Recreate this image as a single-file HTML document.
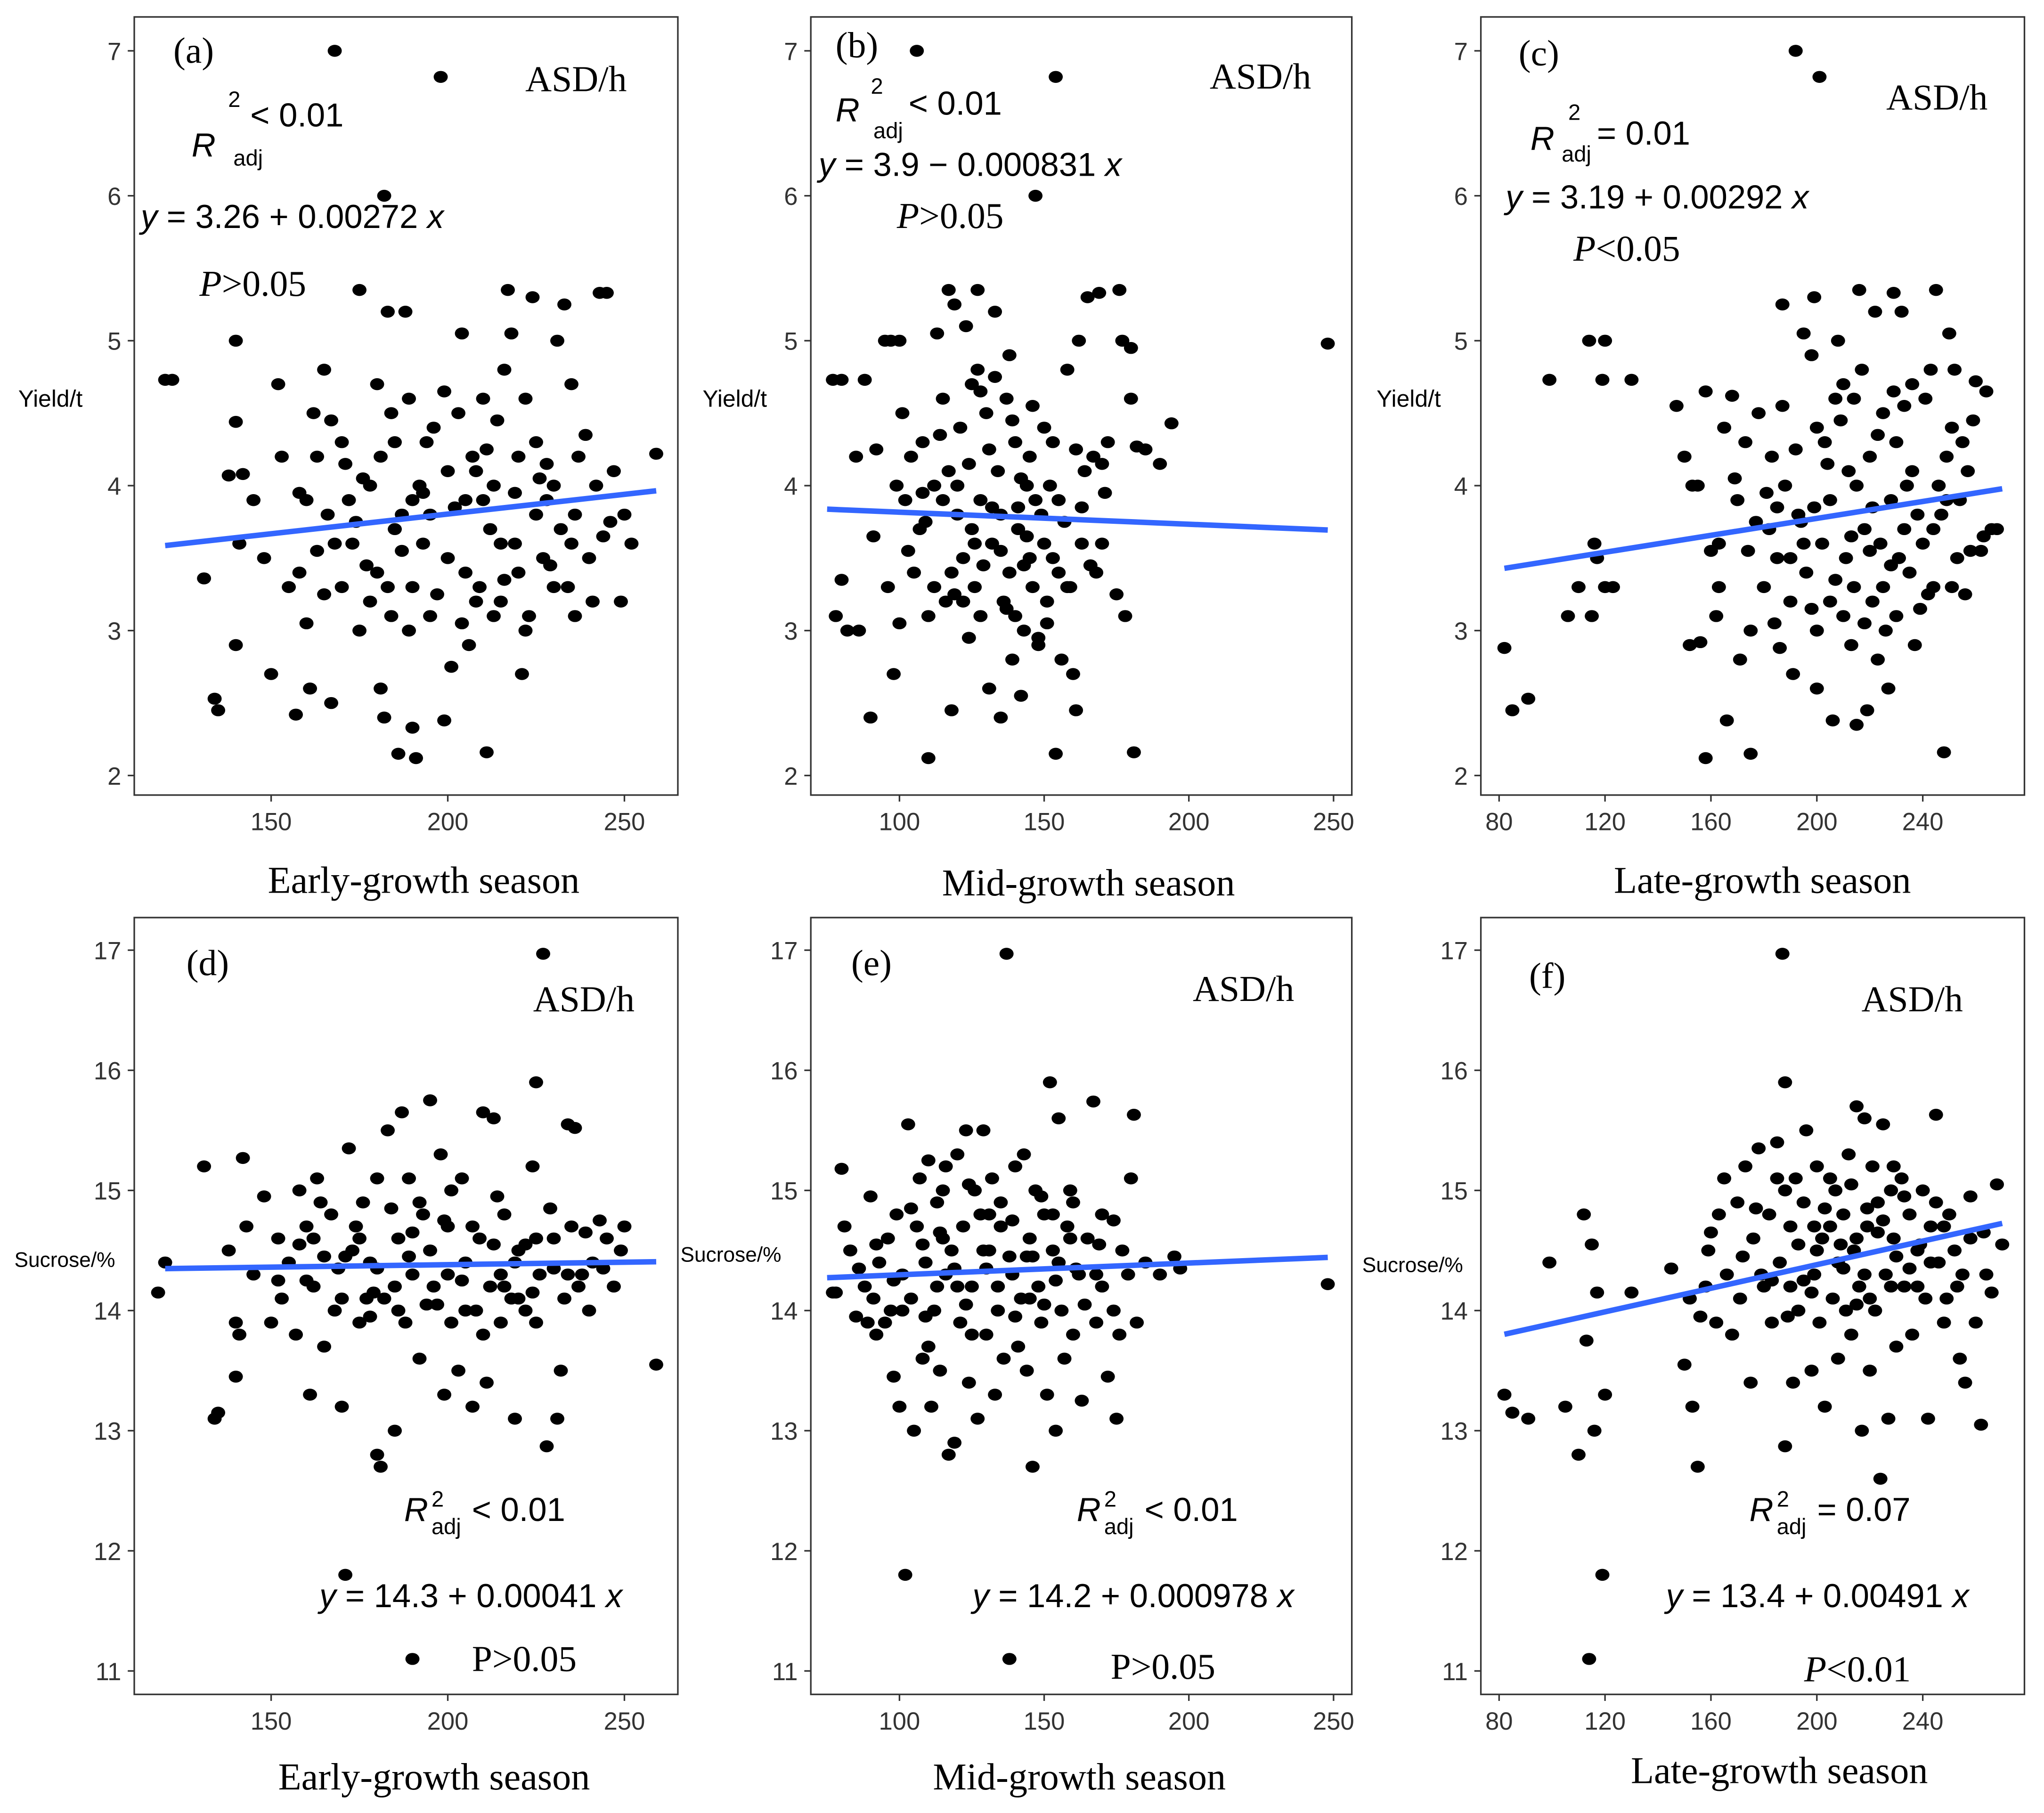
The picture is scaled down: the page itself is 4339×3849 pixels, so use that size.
<!DOCTYPE html>
<html><head><meta charset="utf-8"><style>
html,body{margin:0;padding:0;background:#fff;}
svg{display:block;}
.tk{font-family:"Liberation Sans",sans-serif;font-size:19px;fill:#333;}
</style></head><body>
<svg id="fig" width="4339" height="3849" viewBox="0 0 1568 1391" preserveAspectRatio="none" xmlns="http://www.w3.org/2000/svg">
<g id="root"></g>
</svg>
<script>
const xA=[120,122,131,134,135,138,140,140,140,141,142,145,148,150,152,153,155,157,158,160,161,162,163,165,166,167,168,170,172,173,175,176,178,180,180,181,182,182,183,184,185,186,187,188,189,190,190,191,192,193,195,196,198,199,200,201,203,204,205,207,208,210,211,212,213,215,216,217,218,219,220,221,222,224,225,227,228,230,231,232,233,234,235,236,237,240,241,243,245,246,247,249,250,252,259,170,175,160,190,205,215,225,185,195,200,210,220,178,168,197,213,183,222,165,206,230,163,171,177,184,189,194,199,202,209,214,219,223,226,229,236,239,244,174,181,187,193,208,216,228,235,242,158,167,204,211];
const yA=[4.73,4.73,3.36,2.53,2.45,4.07,4.44,5.0,2.9,3.6,4.08,3.9,3.5,2.7,4.7,4.2,3.3,2.42,3.95,3.05,2.6,4.5,4.2,4.8,3.8,2.5,7.0,4.3,3.9,3.6,5.35,4.05,3.2,4.7,3.4,2.6,6.0,2.4,5.2,3.1,4.3,2.15,3.8,5.2,4.6,3.3,2.33,2.12,4.0,3.6,3.1,4.4,6.82,2.38,3.5,2.75,4.5,5.05,3.9,4.2,3.2,4.6,2.16,3.7,4.0,3.2,4.8,5.35,5.05,3.6,4.2,2.7,3.0,5.3,4.3,3.5,3.9,4.0,5.0,3.7,5.25,3.3,4.7,3.1,4.2,3.5,3.2,5.33,5.33,3.75,4.1,3.2,3.8,3.6,4.22,3.3,3.0,3.9,3.9,3.4,3.6,3.8,3.7,3.8,4.1,3.9,3.4,4.0,3.6,3.25,3.1,3.3,4.6,3.25,2.9,3.3,3.55,4.15,3.45,4.5,3.0,4.3,4.65,3.85,3.3,4.45,3.95,3.1,4.05,3.45,3.8,4.35,3.65,3.75,4.2,3.55,3.95,4.1,3.35,4.15,3.6,4.0,3.4,4.45,3.05,4.25];
const xB=[77,80,78,80,82,85,86,88,90,91,92,95,96,97,98,99,100,100,101,102,104,105,106,107,108,110,110,112,113,115,116,117,118,119,120,121,122,123,124,125,126,127,128,130,131,132,133,134,135,136,137,138,139,140,141,142,143,144,145,146,147,148,149,150,151,152,153,154,154,155,156,158,159,160,161,162,163,164,165,167,168,169,170,172,175,176,177,178,180,180,181,182,185,190,194,248,125,135,145,115,128,140,150,120,132,143,155,118,138,127,112,147,103,108,114,119,124,129,133,137,141,146,151,157,161,166,171,117,126,139,148,158,122,131,144,153,109,135,142,163,170,128];
const yB=[4.73,4.73,3.1,3.35,3.0,4.2,3.0,4.73,2.4,3.65,4.25,5.0,3.3,5.0,2.7,4.0,5.0,3.05,4.5,3.9,4.2,3.4,7.0,3.7,4.3,2.12,3.1,4.0,5.05,4.6,3.2,5.35,2.45,5.25,3.8,4.4,3.5,5.1,2.95,4.7,3.3,5.35,3.9,4.5,2.6,3.6,5.2,4.1,2.4,3.2,4.6,3.4,2.8,4.3,3.7,2.55,3.0,4.0,3.5,3.3,6.0,2.9,3.8,4.4,3.2,4.0,3.5,6.82,2.15,3.9,2.8,4.8,3.3,2.7,2.45,5.0,3.6,4.1,5.3,4.2,3.4,5.33,3.6,4.3,3.25,5.35,5.0,3.1,4.6,4.95,2.16,4.27,4.25,4.15,4.43,4.98,3.7,3.8,4.2,3.9,3.1,3.1,3.6,4.0,3.85,3.45,3.4,3.4,4.9,4.8,3.3,3.9,3.55,3.95,4.35,3.25,4.15,3.45,4.75,3.15,3.85,4.55,3.05,3.75,4.25,3.45,3.95,4.1,3.6,4.45,2.95,3.3,3.2,4.25,3.65,4.3,3.75,3.55,4.05,3.85,4.15,4.65];
const xC=[82,85,91,99,106,110,114,115,116,117,119,120,120,123,130,147,150,152,153,155,156,158,158,160,162,163,165,166,168,170,171,173,175,175,178,180,182,183,185,186,187,188,190,191,192,193,195,196,198,199,200,200,201,202,203,205,206,207,208,210,211,212,213,214,215,216,217,218,219,220,221,222,223,224,225,226,227,228,229,230,231,232,233,234,235,236,237,238,240,241,242,243,244,245,246,247,248,249,250,251,252,253,255,256,257,258,260,262,264,266,268,195,205,215,225,185,200,210,220,230,190,163,169,174,181,187,194,198,204,209,213,218,223,228,233,239,244,249,254,259,263,177,192,207,221,236,251,184,199,214,229];
const yC=[2.88,2.45,2.53,4.73,3.1,3.3,5.0,3.1,3.6,3.5,4.73,5.0,3.3,3.3,4.73,4.55,4.2,2.9,4.0,4.0,2.92,4.65,2.12,3.55,3.1,3.6,4.4,2.38,4.62,3.9,2.8,4.3,3.0,2.15,4.5,3.3,3.7,4.2,3.5,2.88,5.25,4.0,3.2,2.7,7.0,3.8,5.05,3.4,4.9,5.3,3.0,2.6,6.82,3.6,4.3,3.9,2.38,4.6,5.0,3.1,3.5,4.1,2.9,3.3,2.35,5.35,4.8,3.7,2.45,4.2,3.2,5.2,2.8,3.6,4.5,3.0,2.6,3.9,5.33,4.3,3.5,5.2,3.7,4.0,3.4,4.7,2.9,3.8,3.6,4.6,3.25,4.8,3.3,5.35,4.0,3.8,2.16,3.9,5.05,4.4,4.8,3.5,4.3,3.25,4.1,3.55,4.72,3.55,4.65,3.7,3.7,3.6,3.2,4.0,3.3,3.85,4.4,4.7,3.55,3.1,3.5,3.3,4.05,3.55,3.95,4.55,3.75,3.15,4.15,4.45,3.65,3.05,4.35,3.45,4.55,3.15,3.7,4.2,3.9,4.45,3.65,3.75,4.25,3.35,3.85,4.1,3.3,3.05,3.85,4.6,4.65];
const xD=[118,120,131,134,135,138,140,140,141,142,143,145,148,150,152,153,155,157,158,160,161,162,163,165,167,168,170,171,172,173,175,176,178,180,180,181,182,183,185,186,187,188,189,190,190,192,193,195,196,198,199,200,201,203,204,205,207,208,210,211,212,213,215,216,218,219,220,222,224,225,226,227,228,230,231,232,233,234,235,236,238,240,241,243,245,247,250,259,165,175,185,195,205,215,225,170,180,190,200,210,220,230,178,197,213,160,225,152,158,164,169,174,179,184,189,194,199,204,209,214,219,224,229,234,239,244,249,162,177,192,207,222,237,171,186,201,216];
const yD=[14.15,14.4,15.2,13.1,13.15,14.5,13.45,13.9,13.8,15.27,14.7,14.3,14.95,13.9,14.6,14.1,14.4,13.8,15.0,14.7,13.3,14.2,15.1,13.7,14.8,14.0,13.2,11.8,15.35,14.5,13.9,14.9,14.4,12.8,15.1,12.7,14.1,15.5,13.0,14.6,15.65,13.9,15.1,11.1,14.3,13.6,14.8,15.75,14.2,15.3,13.3,14.7,13.9,13.5,15.1,14.4,13.2,14.0,15.65,13.4,14.2,15.6,13.9,14.8,14.1,13.1,14.5,14.0,15.2,15.9,14.3,16.97,12.87,14.6,13.1,13.5,14.1,15.55,14.7,15.52,14.3,14.0,14.4,14.75,14.6,14.2,14.7,13.55,14.45,14.6,14.2,14.5,14.0,14.3,14.6,14.1,14.35,14.65,14.3,13.8,14.1,14.35,13.95,14.05,14.55,14.25,13.9,14.25,14.55,14.9,14.35,14.7,14.15,14.85,14.45,14.05,14.75,14.25,14.6,14.95,14.4,14.15,14.85,14.3,14.65,14.35,14.5,14.6,14.1,14.9,14.7,14.55,14.2,14.45,14.0,15.0,14.2];
const xE=[77,78,80,81,83,85,86,88,89,90,91,92,93,95,96,97,98,99,100,101,102,103,104,105,106,107,108,109,110,111,112,113,114,115,116,117,118,119,120,121,122,123,124,125,126,127,128,129,130,131,132,133,134,135,136,137,138,139,140,141,142,143,144,145,146,147,148,149,150,151,152,153,154,155,156,157,158,159,160,162,163,165,167,168,170,172,174,175,177,180,181,182,185,190,195,197,248,115,125,135,145,155,130,140,150,120,110,160,170,92,98,104,109,114,119,124,129,134,139,144,149,154,159,164,169,174,179,101,116,131,146,161,176,108,123,138,153,168,113];
const yE=[14.15,14.15,15.18,14.7,14.5,13.95,14.35,14.2,13.9,14.95,14.1,13.8,14.4,13.9,14.6,14.0,13.45,14.8,13.2,14.3,11.8,15.55,14.1,13.0,14.7,15.1,13.6,14.4,15.25,13.2,14.0,14.9,13.5,15.0,14.3,12.8,14.5,12.9,15.3,13.9,14.7,15.5,13.4,14.2,15.0,13.1,14.8,15.5,13.8,14.5,15.1,13.3,14.0,14.7,13.6,16.97,11.1,14.3,15.2,13.7,14.1,15.3,13.5,14.6,12.7,15.0,14.2,13.9,14.8,13.3,15.9,14.5,13.0,15.6,14.0,13.6,14.7,15.0,13.8,14.3,13.25,14.6,15.74,13.9,14.2,13.45,14.0,13.1,14.5,15.1,15.63,13.9,14.4,14.3,14.45,14.35,14.22,14.6,13.8,14.9,14.1,14.4,14.35,13.95,14.05,14.2,13.7,14.9,14.8,14.55,14.25,14.85,13.95,14.65,14.35,15.05,14.5,14.2,14.75,14.45,14.95,14.25,14.6,14.05,14.55,14.75,14.3,14.0,15.2,14.8,14.45,14.35,13.8,14.55,14.05,14.45,14.8,14.3,14.2];
const xF=[82,85,91,99,105,110,112,113,114,115,116,117,119,120,130,145,150,152,153,155,156,158,159,160,162,163,165,166,168,170,171,173,175,176,178,180,182,183,185,186,187,188,188,190,191,192,193,195,196,198,199,200,201,202,203,205,206,207,208,210,211,212,213,214,215,216,217,218,219,220,221,222,223,224,225,226,227,228,229,230,232,233,235,236,238,240,241,242,243,245,246,248,250,252,254,255,256,258,260,262,264,266,268,270,190,200,210,220,230,205,215,225,195,235,172,177,183,188,193,198,203,208,213,218,223,228,233,238,243,248,253,258,263,179,189,199,209,219,229,239,249,185,215,245];
const yF=[13.3,13.15,13.1,14.4,13.2,12.8,14.8,13.75,11.1,14.55,13.0,14.15,11.8,13.3,14.15,14.35,13.55,14.1,13.2,12.7,13.95,14.2,14.5,14.65,13.9,14.8,15.1,14.3,13.8,14.9,14.1,15.2,13.4,14.6,15.35,14.2,14.8,13.9,15.4,14.4,16.97,15.9,12.87,14.7,13.4,15.1,14.0,14.9,15.5,13.5,14.3,15.2,13.9,14.6,13.2,15.1,14.1,15.0,13.6,14.8,14.0,15.3,13.8,14.5,15.7,14.2,13.0,15.6,14.7,13.5,15.2,14.0,14.9,12.6,15.55,14.3,13.1,15.0,14.6,13.7,15.1,14.2,14.8,13.8,14.5,15.0,14.1,13.1,14.7,15.63,14.4,13.9,14.8,14.5,13.6,14.3,13.4,14.6,13.9,13.05,14.3,14.15,15.05,14.55,14.2,14.5,14.35,14.1,14.45,14.7,14.05,14.75,14.25,14.35,14.45,14.85,14.25,15.0,14.55,14.15,14.85,14.4,15.05,14.3,14.65,14.2,14.95,14.2,14.4,14.7,14.2,14.95,14.65,14.3,13.95,14.7,14.55,14.85,15.2,14.55,14.1,15.1,14.6,14.9];
const intercepts=[3.26,3.9,3.19,14.3,14.2,13.4];
const slopes=[0.00272,-0.000831,0.00292,0.00041,0.000978,0.00491];
const xTicksA=[150,200,250], xTicksB=[100,150,200,250], xTicksC=[80,120,160,200,240];
const yTicksTop=[2,3,4,5,6,7], yTicksBot=[11,12,13,14,15,16,17];

const NS="http://www.w3.org/2000/svg";
const root=document.getElementById('root');
function mk(tag,attrs,parent){const e=document.createElementNS(NS,tag);for(const k in attrs)e.setAttribute(k,attrs[k]);(parent||root).appendChild(e);return e;}
function txt(x,y,s,cls,parent,extra){const e=mk('text',Object.assign({x:x,y:y,class:cls},extra||{}),parent);e.textContent=s;return e;}

const xmaps={a:[208,150,2.71],b:[690,100,2.22],c:[1150,80,2.03125]};
const ymaps={top:[39,7,111.2],bot:[729,17,92.17]};
const panels=[
 {id:'a',xm:'a',ym:'top',bx:103,by:13,bw:417,bh:597,xs:xA,ys:yA,xt:xTicksA,yt:yTicksTop,xr:[120,259]},
 {id:'b',xm:'b',ym:'top',bx:622,by:13,bw:415,bh:597,xs:xB,ys:yB,xt:xTicksB,yt:yTicksTop,xr:[75,248]},
 {id:'c',xm:'c',ym:'top',bx:1136,by:13,bw:417,bh:597,xs:xC,ys:yC,xt:xTicksC,yt:yTicksTop,xr:[82,270]},
 {id:'d',xm:'a',ym:'bot',bx:103,by:704,bw:417,bh:596,xs:xD,ys:yD,xt:xTicksA,yt:yTicksBot,xr:[120,259]},
 {id:'e',xm:'b',ym:'bot',bx:622,by:704,bw:415,bh:596,xs:xE,ys:yE,xt:xTicksB,yt:yTicksBot,xr:[75,248]},
 {id:'f',xm:'c',ym:'bot',bx:1136,by:704,bw:417,bh:596,xs:xF,ys:yF,xt:xTicksC,yt:yTicksBot,xr:[82,270]}
];
panels.forEach((p,i)=>{
  const g=mk('g',{});
  
  
  const xm=xmaps[p.xm], ym=ymaps[p.ym];
  const X=v=>xm[0]+(v-xm[1])*xm[2];
  const Y=v=>ym[0]+(ym[1]-v)*ym[2];
  const fr=mk('rect',{x:p.bx,y:p.by,width:p.bw,height:p.bh,fill:'#fff',stroke:'#333','stroke-width':1.2},g);
  
  
  p.yt.forEach(v=>{
    mk('line',{x1:p.bx-5,x2:p.bx,y1:Y(v),y2:Y(v),stroke:'#333','stroke-width':1.2},g);
    const t=txt(p.bx-10,Y(v)+7,String(v),'tk',g,{'text-anchor':'end'});
    
    
  });
  p.xt.forEach(v=>{
    mk('line',{x1:X(v),x2:X(v),y1:p.by+p.bh,y2:p.by+p.bh+5,stroke:'#333','stroke-width':1.2},g);
    const t=txt(X(v),p.by+p.bh+27,String(v),'tk',g,{'text-anchor':'middle'});
    
    
  });
  p.xs.forEach((x,j)=>{
    const c=mk('ellipse',{cx:X(x),cy:Y(p.ys[j]),rx:5.4,ry:4.6,fill:'#000'},g);
    
    
  });
  const a=intercepts[i], b=slopes[i];
  const ln=mk('line',{x1:X(p.xr[0]),y1:Y(a+b*p.xr[0]),x2:X(p.xr[1]),y2:Y(a+b*p.xr[1]),stroke:'#3366FF','stroke-width':4.2},g);
  
  
});
</script>
<svg style="position:absolute;left:0;top:0" width="4339" height="3849" viewBox="0 0 1568 1391" preserveAspectRatio="none" xmlns="http://www.w3.org/2000/svg">
<style>
.ser{font-family:"Liberation Serif",serif;font-size:28px;fill:#000;}
.ttl{font-family:"Liberation Serif",serif;font-size:29px;fill:#000;}
.san{font-family:"Liberation Sans",sans-serif;font-size:25.5px;fill:#000;}
.sm{font-family:"Liberation Sans",sans-serif;font-size:17px;fill:#000;}
.yl{font-family:"Liberation Sans",sans-serif;font-size:18px;fill:#000;}
.yl2{font-family:"Liberation Sans",sans-serif;font-size:16px;fill:#000;}
</style>
<!-- panel a -->
<text class="ser" x="133" y="48">(a)</text>
<text class="ser" x="403" y="70">ASD/h</text>
<text class="sm" x="175" y="82">2</text>
<text class="san" x="192" y="97">&lt; 0.01</text>
<text class="san" x="147" y="120" font-style="italic">R</text>
<text class="sm" x="179" y="127">adj</text>
<text class="san" x="108" y="175"><tspan font-style="italic">y</tspan> = 3.26 + 0.00272 <tspan font-style="italic">x</tspan></text>
<text class="ser" x="153" y="227"><tspan font-style="italic">P</tspan>&gt;0.05</text>
<text class="yl" x="14" y="312">Yield/t</text>
<text class="ttl" x="325" y="685" text-anchor="middle">Early-growth season</text>
<!-- panel b -->
<text class="ser" x="641" y="44">(b)</text>
<text class="ser" x="928" y="68">ASD/h</text>
<text class="sm" x="668" y="72">2</text>
<text class="san" x="697" y="88">&lt; 0.01</text>
<text class="san" x="641" y="93" font-style="italic">R</text>
<text class="sm" x="670" y="106">adj</text>
<text class="san" x="628" y="135"><tspan font-style="italic">y</tspan> = 3.9 − 0.000831 <tspan font-style="italic">x</tspan></text>
<text class="ser" x="688" y="175"><tspan font-style="italic">P</tspan>&gt;0.05</text>
<text class="yl" x="539" y="312">Yield/t</text>
<text class="ttl" x="835" y="687" text-anchor="middle">Mid-growth season</text>
<!-- panel c -->
<text class="ser" x="1165" y="50">(c)</text>
<text class="ser" x="1447" y="84">ASD/h</text>
<text class="sm" x="1203" y="92">2</text>
<text class="san" x="1225" y="111">= 0.01</text>
<text class="san" x="1174" y="115" font-style="italic">R</text>
<text class="sm" x="1198" y="124">adj</text>
<text class="san" x="1155" y="160"><tspan font-style="italic">y</tspan> = 3.19 + 0.00292 <tspan font-style="italic">x</tspan></text>
<text class="ser" x="1207" y="200"><tspan font-style="italic">P</tspan>&lt;0.05</text>
<text class="yl" x="1056" y="312">Yield/t</text>
<text class="ttl" x="1352" y="685" text-anchor="middle">Late-growth season</text>
<!-- panel d -->
<text class="ser" x="143" y="748">(d)</text>
<text class="ser" x="409" y="776">ASD/h</text>
<text class="san" x="310" y="1167"><tspan font-style="italic">R</tspan></text>
<text class="sm" x="331" y="1156">2</text>
<text class="sm" x="331" y="1177">adj</text>
<text class="san" x="362" y="1167">&lt; 0.01</text>
<text class="san" x="245" y="1233"><tspan font-style="italic">y</tspan> = 14.3 + 0.00041 <tspan font-style="italic">x</tspan></text>
<text class="ser" x="362" y="1282">P&gt;0.05</text>
<text class="yl2" x="11" y="972">Sucrose/%</text>
<text class="ttl" x="333" y="1373" text-anchor="middle">Early-growth season</text>
<!-- panel e -->
<text class="ser" x="653" y="748">(e)</text>
<text class="ser" x="915" y="768">ASD/h</text>
<text class="san" x="826" y="1167"><tspan font-style="italic">R</tspan></text>
<text class="sm" x="847" y="1156">2</text>
<text class="sm" x="847" y="1177">adj</text>
<text class="san" x="878" y="1167">&lt; 0.01</text>
<text class="san" x="746" y="1233"><tspan font-style="italic">y</tspan> = 14.2 + 0.000978 <tspan font-style="italic">x</tspan></text>
<text class="ser" x="852" y="1288">P&gt;0.05</text>
<text class="yl2" x="522" y="968">Sucrose/%</text>
<text class="ttl" x="828" y="1373" text-anchor="middle">Mid-growth season</text>
<!-- panel f -->
<text class="ser" x="1173" y="758">(f)</text>
<text class="ser" x="1428" y="776">ASD/h</text>
<text class="san" x="1342" y="1167"><tspan font-style="italic">R</tspan></text>
<text class="sm" x="1363" y="1156">2</text>
<text class="sm" x="1363" y="1177">adj</text>
<text class="san" x="1394" y="1167">= 0.07</text>
<text class="san" x="1278" y="1233"><tspan font-style="italic">y</tspan> = 13.4 + 0.00491 <tspan font-style="italic">x</tspan></text>
<text class="ser" x="1384" y="1290"><tspan font-style="italic">P</tspan>&lt;0.01</text>
<text class="yl2" x="1045" y="976">Sucrose/%</text>
<text class="ttl" x="1365" y="1368" text-anchor="middle">Late-growth season</text>
</svg>
</body></html>
